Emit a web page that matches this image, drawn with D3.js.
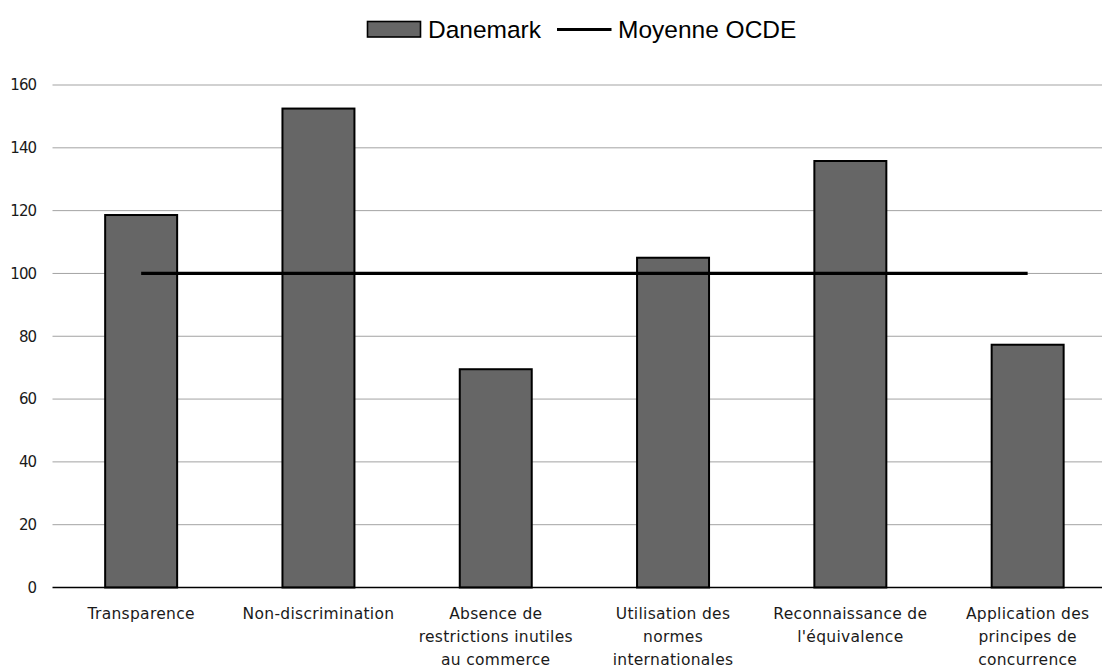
<!DOCTYPE html>
<html>
<head>
<meta charset="utf-8">
<script src="https://cdn.jsdelivr.net/npm/d3@7"></script>
<style>
  html, body { margin: 0; padding: 0; background: #fff; }
  svg { display: block; }
</style>
</head>
<body>
<svg id="chart" width="1102" height="671"></svg>
<script>
// Indicator categories (each label split into display lines)
const categories = [
  ["Transparence"],
  ["Non-discrimination"],
  ["Absence de", "restrictions inutiles", "au commerce"],
  ["Utilisation des", "normes", "internationales"],
  ["Reconnaissance de", "l'équivalence"],
  ["Application des", "principes de", "concurrence"]
];
// Denmark's score per indicator (OECD average = 100)
const denmark = [118.6, 152.5, 69.5, 105.0, 135.8, 77.3];
const oecdAverage = [100, 100, 100, 100, 100, 100];
const yTicks = [0, 20, 40, 60, 80, 100, 120, 140, 160];
const seriesNames = ["Danemark", "Moyenne OCDE"];

const svg = d3.select("#chart");
const plot = { left: 52.5, right: 1116.3, top: 85, bottom: 587.5 };

const keys = categories.map(c => c.join(" "));
const x = d3.scaleBand()
  .domain(keys)
  .range([plot.left, plot.right])
  .paddingInner(0.594)
  .paddingOuter(0.297);

const y = d3.scaleLinear()
  .domain([0, 160])
  .range([plot.bottom, plot.top]);

// Horizontal gridlines
svg.append("g")
  .selectAll("line")
  .data(yTicks.filter(t => t !== 0))
  .join("line")
  .attr("x1", plot.left)
  .attr("x2", 1102)
  .attr("y1", d => y(d))
  .attr("y2", d => y(d))
  .attr("stroke", "#a3a3a3")
  .attr("stroke-width", 1);

// Y axis labels
const yAxis = d3.axisLeft(y).tickValues(yTicks).tickSize(0).tickPadding(0);
const yg = svg.append("g")
  .attr("transform", "translate(36,0)")
  .call(yAxis);
yg.select(".domain").remove();
yg.selectAll("text")
  .attr("font-family", "'DejaVu Sans', sans-serif")
  .attr("font-size", 15)
  .attr("fill", "#1a1a1a")
  .attr("letter-spacing", -1);

// Bars
svg.append("g")
  .selectAll("rect")
  .data(denmark)
  .join("rect")
  .attr("x", (d, i) => x(keys[i]))
  .attr("width", x.bandwidth())
  .attr("y", d => y(d))
  .attr("height", d => y(0) - y(d))
  .attr("fill", "#666666")
  .attr("stroke", "#000")
  .attr("stroke-width", 2);

// Baseline
svg.append("line")
  .attr("x1", plot.left)
  .attr("x2", 1102)
  .attr("y1", y(0))
  .attr("y2", y(0))
  .attr("stroke", "#000")
  .attr("stroke-width", 1.5);

// OECD average line
const line = d3.line()
  .x((d, i) => x(keys[i]) + x.bandwidth() / 2)
  .y(d => y(d));
svg.append("path")
  .datum(oecdAverage)
  .attr("d", line)
  .attr("fill", "none")
  .attr("stroke", "#000")
  .attr("stroke-width", 3.2);

// Category labels
const xl = svg.append("g")
  .selectAll("text")
  .data(categories)
  .join("text")
  .attr("text-anchor", "middle")
  .attr("font-family", "'DejaVu Sans', sans-serif")
  .attr("font-size", 15.5)
  .attr("fill", "#1a1a1a")
  .attr("letter-spacing", 0.3)
  .attr("transform", (d, i) => `translate(${x(keys[i]) + x.bandwidth() / 2},619)`);
xl.selectAll("tspan")
  .data(d => d)
  .join("tspan")
  .attr("x", 0)
  .attr("y", (d, j) => j * 23)
  .text(d => d);

// Legend
const legend = svg.append("g").attr("font-family", "'Liberation Sans', Arial, sans-serif")
  .attr("font-size", 24.5).attr("fill", "#000");
legend.append("rect")
  .attr("x", 367.5).attr("y", 21.5).attr("width", 53).attr("height", 15.5)
  .attr("fill", "#666666").attr("stroke", "#000").attr("stroke-width", 1.6);
legend.append("text").attr("x", 428).attr("y", 37.5).text(seriesNames[0]);
legend.append("line")
  .attr("x1", 557).attr("x2", 611.5).attr("y1", 29.5).attr("y2", 29.5)
  .attr("stroke", "#000").attr("stroke-width", 3.2);
legend.append("text").attr("x", 618).attr("y", 37.5).text(seriesNames[1]);
</script>
</body>
</html>
